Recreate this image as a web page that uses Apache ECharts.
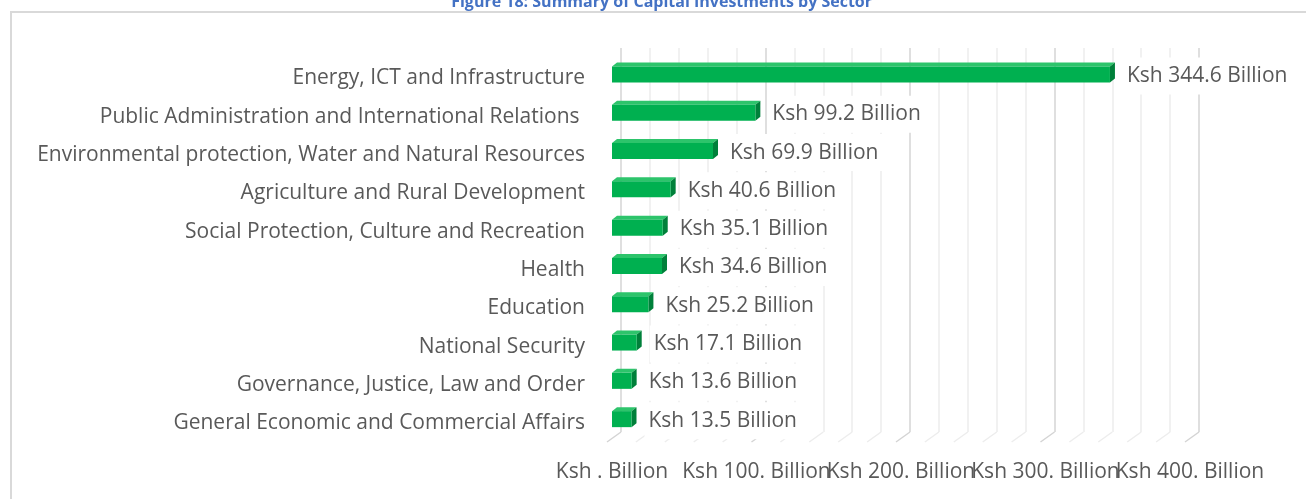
<!DOCTYPE html>
<html>
<head>
<meta charset="utf-8">
<script src="https://cdn.jsdelivr.net/npm/echarts@6/dist/echarts.min.js"></script>
<style>
  html, body { margin: 0; padding: 0; background: #fff; }
  #chart { width: 1306px; height: 499px; }
</style>
</head>
<body>
<div id="chart"></div>
<script>
// sectors, top to bottom
const categories = [
  'Energy, ICT and Infrastructure',
  'Public Administration and International Relations ',
  'Environmental protection, Water and Natural Resources',
  'Agriculture and Rural Development',
  'Social Protection, Culture and Recreation',
  'Health',
  'Education',
  'National Security',
  'Governance, Justice, Law and Order',
  'General Economic and Commercial Affairs'
]
// Ksh billion
const values = [344.6, 99.2, 69.9, 40.6, 35.1, 34.6, 25.2, 17.1, 13.6, 13.5]
const tickLabels = ['Ksh . Billion', 'Ksh 100. Billion', 'Ksh 200. Billion', 'Ksh 300. Billion', 'Ksh 400. Billion']
const gridTicks = [0, 20, 40, 60, 80, 100, 120, 140, 160, 180, 200, 220, 240, 260, 280, 300, 320, 340, 360, 380, 400]

const FONT = '"Open Sans", "Noto Sans", sans-serif'
const TEXT = '#595959'

const chart = echarts.init(document.getElementById('chart'))

// 3d bar: front face + top + right side
function renderBar(params, api) {
  const idx = api.value(0)
  const v = api.value(1)
  const p0 = api.coord([0, idx])
  const p1 = api.coord([v, idx])
  const h = 16, dx = 5, dy = -4
  const x0 = p0[0], x1 = p1[0]
  const y0 = p0[1] - h / 2, y1 = p0[1] + h / 2
  return {
    type: 'group',
    children: [
      { type: 'polygon', shape: { points: [[x0, y0], [x1, y0], [x1 + dx, y0 + dy], [x0 + dx, y0 + dy]] },
        style: { fill: '#2dc46b' } },
      { type: 'polygon', shape: { points: [[x1, y0], [x1 + dx, y0 + dy], [x1 + dx, y1 + dy], [x1, y1]] },
        style: { fill: '#00803a' } },
      { type: 'rect', shape: { x: x0, y: y0, width: x1 - x0, height: h },
        style: { fill: '#00b050' } },
      { type: 'text', z2: 10,
        style: { text: 'Ksh ' + v.toFixed(1) + ' Billion', x: x1 + dx + 8, y: p0[1] + 1.5,
          verticalAlign: 'middle', align: 'left', fill: TEXT, font: '21px ' + FONT,
          backgroundColor: '#fff', padding: [8, 4] } }
    ]
  }
}

// floor part of the wall gridlines
function renderFloor(params, api) {
  const t = api.value(0)
  const p = api.coord([t, 0])
  const major = t % 100 === 0
  return {
    type: 'line',
    shape: { x1: p[0], y1: p[1], x2: p[0] - 14, y2: p[1] + 10 },
    style: { stroke: major ? '#d4d4d4' : '#ededed', lineWidth: 1.5 }
  }
}

// tick labels are split over two axes so none gets hidden for overlapping
function valueAxis(even) {
  return {
    gridIndex: 0, type: 'value', min: 0, max: 400, interval: 100, position: 'bottom',
    axisLine: { show: false }, axisTick: { show: false }, splitLine: { show: false },
    axisLabel: { margin: 23, color: TEXT, fontSize: 21, fontFamily: FONT,
      showMaxLabel: true, showMinLabel: true,
      formatter: v => ((v / 100) % 2 === 0) === even ? tickLabels[v / 100] : '' }
  }
}

chart.setOption({
  animation: false,
  graphic: [
    { type: 'rect', shape: { x: 11, y: 12, width: 1400, height: 600 },
      style: { fill: 'none', stroke: '#d9d9d9', lineWidth: 2 }, z: -10 },
    { type: 'text', style: { text: 'Figure 18: Summary of Capital Investments by Sector', x: 872, y: 10,
        align: 'right', verticalAlign: 'bottom', fill: '#4472c4', font: 'bold 16px ' + FONT } }
  ],
  grid: [
    { left: 612, width: 578, top: 55.3, height: 383 },
    { left: 621, width: 578, top: 48, height: 384 }
  ],
  xAxis: [
    valueAxis(true),
    { gridIndex: 1, type: 'value', min: 0, max: 400, interval: 100,
      axisLine: { show: false }, axisTick: { show: false }, axisLabel: { show: false },
      splitLine: { lineStyle: { color: '#d4d4d4', width: 1.5 } },
      minorTick: { show: false, splitNumber: 5 },
      minorSplitLine: { show: true, lineStyle: { color: '#ededed', width: 1.5 } } },
    valueAxis(false)
  ],
  yAxis: [
    { gridIndex: 0, type: 'category', data: categories, inverse: true,
      axisLine: { show: false }, axisTick: { show: false },
      axisLabel: { margin: 27, formatter: v => '{c|' + v + '}',
        rich: { c: { color: TEXT, fontSize: 21, fontFamily: FONT, padding: [8, 0, 0, 0] } } } },
    { gridIndex: 1, type: 'value', min: 0, max: 1, show: false }
  ],
  series: [
    { type: 'custom', xAxisIndex: 1, yAxisIndex: 1, renderItem: renderFloor,
      data: gridTicks.map(t => [t]), silent: true, z: 1 },
    { type: 'custom', xAxisIndex: 0, yAxisIndex: 0, renderItem: renderBar,
      data: values.map((v, i) => [i, v]), z: 5 }
  ]
})
</script>
</body>
</html>
